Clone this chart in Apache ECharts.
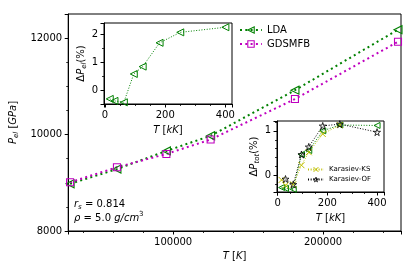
<!DOCTYPE html>
<html><head><meta charset="utf-8">
<script src="https://cdn.jsdelivr.net/npm/echarts@6/dist/echarts.min.js"></script>
<style>html,body{margin:0;padding:0;background:#fff}#c{width:416px;height:277px}</style>
</head><body><div id="c"></div>
<script>
// ---- data ----
const mainT = [31250, 62500, 95500, 125000, 181250, 250000];
const ldaP = [8978, 9284, 9660, 9975, 10920, 12175];
const gdsmfbP = [9010, 9322, 9598, 9897, 10736, 11924];

const elT = [15.6, 31.25, 62.5, 95.5, 125, 181.25, 250, 400];
const ldaDeltaEl = [-0.29, -0.36, -0.41, 0.59, 0.85, 1.69, 2.06, 2.24];

const totT = [15.6, 31.25, 62.5, 95.5, 125, 181.25, 250, 400];
const ldaDeltaTot = [-0.27, -0.29, -0.31, 0.47, 0.56, 1.0, 1.13, 1.12];
const ksT = [15.6, 31.25, 62.5, 95.5, 125, 181.25, 250];
const ksDeltaTot = [-0.1, -0.22, -0.2, 0.23, 0.52, 0.93, 1.13];
const ofT = [31.25, 62.5, 95.5, 125, 181.25, 250, 400];
const ofDeltaTot = [-0.08, -0.2, 0.47, 0.64, 1.11, 1.15, 0.97];

const mainXTicks = [100000, 200000];
const mainYTicks = [8000, 10000, 12000];
const insetXTicks = [0, 200, 400];
const inset1YTicks = [0, 1, 2];
const inset2YTicks = [0, 1];

// ---- styling ----
const FF = 'DejaVu Sans';
const GREEN = '#008000', MAG = '#bf00bf', YEL = '#bfbf00', BLK = '#000000';
const TRI_LEFT = 'path://M0,5L10,0L10,10Z';
const SQUARE = 'path://M0,0H10V10H0Z';
const STAR = 'path://M50,0L61.2,34.5L97.6,34.5L68.2,55.9L79.4,90.5L50,69.1L20.6,90.5L31.8,55.9L2.4,34.5L38.8,34.5Z';
const CROSS = 'path://M0,0L10,10M10,0L0,10';
const NOFILL = 'rgba(255,255,255,0)';

const rich = {
  i: {fontFamily: FF, fontSize: 10, fontStyle: 'italic', color: '#000'},
  n: {fontFamily: FF, fontSize: 10, color: '#000'},
  s: {fontFamily: FF, fontSize: 7, fontStyle: 'italic', color: '#000', padding: [6, 0, 0, 0]},
  p: {fontFamily: FF, fontSize: 7, color: '#000', padding: [0, 0, 7, 0]}
};

function fmt(list) { return v => (list.includes(v) ? String(v) : ''); }

function xAxis(grid, min, max, step, ticks, minorSplit, name, gap) {
  return {
    gridIndex: grid, type: 'value', min: min, max: max,
    minInterval: step, maxInterval: step,
    axisLine: {show: true, onZero: false, lineStyle: {color: '#000', width: 1}},
    axisTick: {show: true, length: 3.5, lineStyle: {color: '#000', width: 1}},
    minorTick: {show: true, splitNumber: minorSplit, length: 2, lineStyle: {color: '#000', width: 0.8}},
    splitLine: {show: false}, minorSplitLine: {show: false},
    axisLabel: {formatter: fmt(ticks), color: '#000', fontSize: 10, fontFamily: FF, margin: 6},
    name: name, nameLocation: 'middle', nameGap: gap,
    nameTextStyle: {rich: rich, fontFamily: FF, fontSize: 10, color: '#000'}
  };
}
function yAxis(grid, min, max, step, ticks, minorSplit, name, gap) {
  return {
    gridIndex: grid, type: 'value', min: min, max: max,
    minInterval: step, maxInterval: step,
    axisLine: {show: true, onZero: false, lineStyle: {color: '#000', width: 1}},
    axisTick: {show: true, length: 3.5, lineStyle: {color: '#000', width: 1}},
    minorTick: {show: true, splitNumber: minorSplit, length: 2, lineStyle: {color: '#000', width: 0.8}},
    splitLine: {show: false}, minorSplitLine: {show: false},
    axisLabel: {formatter: fmt(ticks), color: '#000', fontSize: 10, fontFamily: FF, margin: 6},
    name: name, nameLocation: 'middle', nameGap: gap, nameRotate: 90,
    nameTextStyle: {rich: rich, fontFamily: FF, fontSize: 10, color: '#000'}
  };
}
function pairs(xs, ys) { return xs.map((x, i) => [x, ys[i]]); }
function lineSeries(name, xi, xs, ys, color, symbol, size, width, dash, bw) {
  return {
    name: name, type: 'line', xAxisIndex: xi, yAxisIndex: xi,
    data: pairs(xs, ys),
    symbol: symbol, symbolSize: size,
    lineStyle: {color: color, width: width, type: dash},
    itemStyle: {color: NOFILL, borderColor: color, borderWidth: bw},
    emphasis: {disabled: true}, animation: false, z: xi === 0 ? 2 : 6
  };
}
function legendItem(name, color, bw) {
  return {name: name, itemStyle: {color: NOFILL, borderColor: color, borderWidth: bw}};
}

const gridStyle = {show: true, borderColor: '#000', borderWidth: 1, backgroundColor: '#fff'};

const option = {
  backgroundColor: '#fff',
  animation: false,
  textStyle: {fontFamily: FF},
  grid: [
    Object.assign({left: 66, top: 14, width: 335, height: 217, z: 0}, gridStyle),
    Object.assign({left: 104, top: 23, width: 128, height: 81, z: 4}, gridStyle),
    Object.assign({left: 277, top: 121, width: 107, height: 71, z: 4}, gridStyle)
  ],
  xAxis: [
    xAxis(0, 30000, 252000, 100000, mainXTicks, 5, '{i|T} [{i|K}]', 20),
    Object.assign(xAxis(1, -3.5, 422, 200, insetXTicks, 4, '{i|T} [{i|kK}]', 21), {z: 5}),
    Object.assign(xAxis(2, -3, 428, 200, insetXTicks, 4, '{i|T} [{i|kK}]', 21), {z: 5})
  ],
  yAxis: [
    yAxis(0, 8000, 12500, 2000, mainYTicks, 4, '{i|P}{s|el} [{i|GPa}]', 37),
    Object.assign(yAxis(1, -0.47, 2.39, 1, inset1YTicks, 2, '{n|Δ}{i|P}{s|el}{n|(%)}', 13), {z: 5}),
    Object.assign(yAxis(2, -0.37, 1.22, 1, inset2YTicks, 5, '{n|Δ}{i|P}{s|tot}{n|(%)}', 13), {z: 5})
  ],
  legend: [
    {data: [legendItem('LDA', GREEN, 1.1), legendItem('GDSMFB', MAG, 1.1)],
     orient: 'vertical', left: 234, top: 20,
     itemWidth: 22, itemHeight: 8, itemGap: 4,
     textStyle: {fontFamily: FF, fontSize: 10, color: '#000'}, selectedMode: false},
    {data: [legendItem('Karasiev-KS', YEL, 1), legendItem('Karasiev-OF', BLK, 0.8)],
     orient: 'vertical', left: 302, top: 161,
     itemWidth: 16, itemHeight: 6, itemGap: 3, z: 7,
     textStyle: {fontFamily: FF, fontSize: 7, color: '#000'}, selectedMode: false}
  ],
  series: [
    lineSeries('LDA', 0, mainT, ldaP, GREEN, TRI_LEFT, 8, 2, [2, 3.3], 1.1),
    lineSeries('GDSMFB', 0, mainT, gdsmfbP, MAG, SQUARE, 7, 2, [2, 3.3], 1.1),
    lineSeries('LDA el', 1, elT, ldaDeltaEl, GREEN, TRI_LEFT, 7, 1, [1, 1.65], 1),
    lineSeries('LDA tot', 2, totT, ldaDeltaTot, GREEN, TRI_LEFT, 6, 1, [1, 1.65], 1),
    lineSeries('Karasiev-KS', 2, ksT, ksDeltaTot, YEL, CROSS, 6, 1, [1, 1.65], 1),
    lineSeries('Karasiev-OF', 2, ofT, ofDeltaTot, BLK, STAR, 7, 1, [1, 1.65], 0.8)
  ],
  graphic: [
    {type: 'text', left: 74, top: 199, z: 10,
     style: {text: '{i|r}{s|s} = 0.814', rich: rich, fill: '#000', font: '10px ' + FF}},
    {type: 'text', left: 74, top: 211, z: 10,
     style: {text: '{i|ρ} = 5.0 {i|g/cm}{p|3}', rich: rich, fill: '#000', font: '10px ' + FF}}
  ]
};

const chart = echarts.init(document.getElementById('c'), null, {renderer: 'canvas'});
chart.setOption(option);
</script>
</body></html>
